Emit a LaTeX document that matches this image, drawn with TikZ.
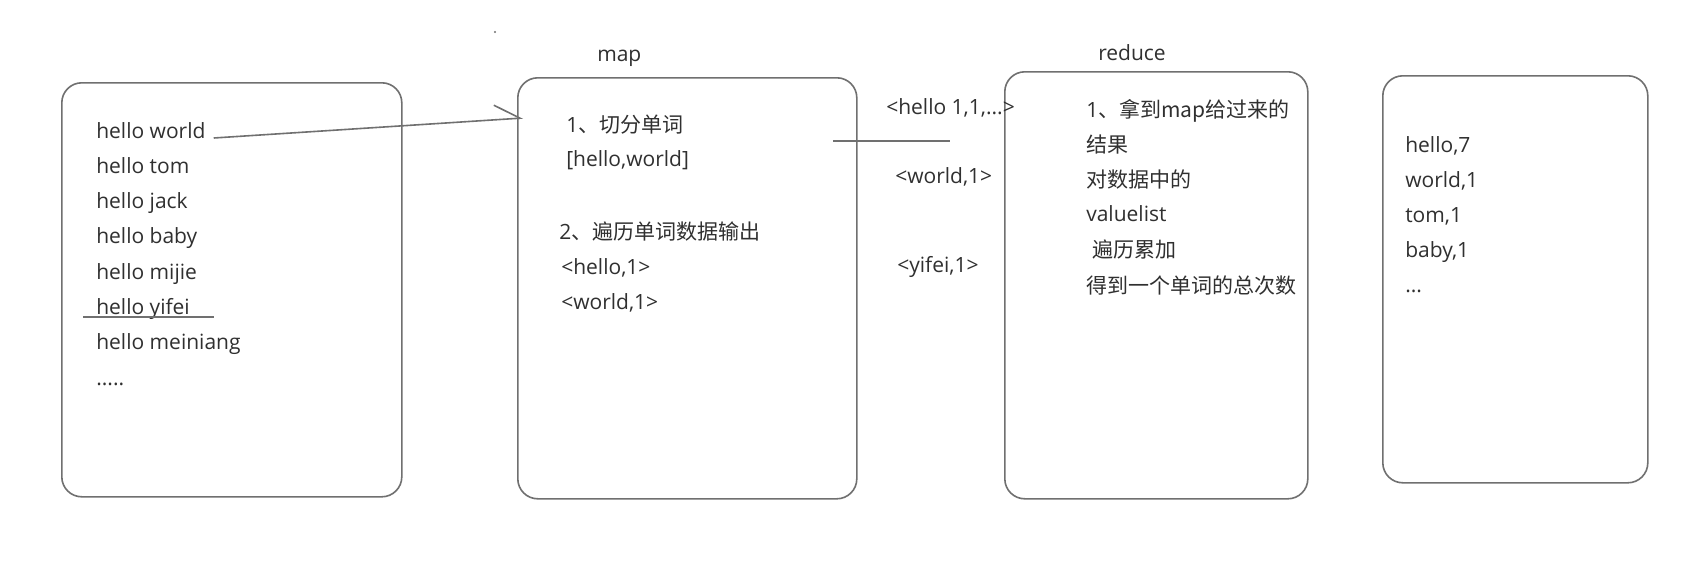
\documentclass[tikz,border=0pt]{standalone}
\usepackage{fontspec}
\setmainfont{Open Sans}
\newfontfamily\cjk{Noto Sans CJK SC}
\usepackage{tikz}
\usetikzlibrary{arrows.meta}

\definecolor{boxgray}{HTML}{707070}
\definecolor{textgray}{HTML}{303030}

\tikzset{
    box/.style={draw=boxgray, line width=1.2pt, rounded corners=15pt,
        anchor=north west, inner sep=0pt},
    word/.style={anchor=base west, inner sep=0pt, text=textgray,
        font=\fontsize{15.75}{18}\selectfont},
    stroke/.style={draw=boxgray, line width=1.2pt},
    link/.style={stroke, -{Straight Barb[left, length=19pt, width=22pt, line width=1.2pt]}}
}

\begin{document}
\begin{tikzpicture}[x=0.75pt,y=-0.75pt]

        \fill[white] (0,0) rectangle (1684,564);
        \useasboundingbox (0,0) rectangle (1684,564);

        % the four boxes
        \node[box, minimum width=255pt, minimum height=310.5pt] (input) at (61,82) {};
        \node[box, minimum width=254.25pt, minimum height=315.75pt] (mapbox) at (517,77) {};
        \node[box, minimum width=227.25pt, minimum height=320.25pt] (redbox) at (1004,71) {};
        \node[box, minimum width=198.75pt, minimum height=305.25pt] (outbox) at (1382,75) {};

        \node[word] (maplabel) at (597,61) {map};
        \node[word] (redlabel) at (1098,60) {reduce};

        % input lines
        \foreach \i/\txt in {0/hello world,1/hello tom,2/hello jack,3/hello baby,
                4/hello mijie,5/hello yifei,6/hello meiniang,7/{.....}}
            { \node[word] (w\i) at (96,{138+35.3*\i}) {\txt}; }

        \coordinate (u1) at (83,317);
        \coordinate (u2) at (214,317);
        \draw[stroke] (u1) -- (u2);

        \coordinate (tip) at (523,118);
        \draw[link] ([xshift=6pt]w0.base east) -- (tip);

        % map
        \node[word] (m1) at (566,132) {1\cjk{、切分单词}};
        \node[word] (m2) at (566,166) {[hello,world]};
        \node[word] (m3) at (559,239) {2\cjk{、遍历单词数据输出}};
        \node[word] (m4) at (561,274) {<hello,1>};
        \node[word] (m5) at (561,309) {<world,1>};

        \coordinate (s1) at (833,141);
        \coordinate (s2) at (950,141);
        \draw[stroke] (s1) -- (s2);

        % pairs between map and reduce
        \node[word] (k1) at (886,114) {<hello 1,1,...>};
        \node[word] (k2) at (895,183) {<world,1>};
        \node[word] (k3) at (897,272) {<yifei,1>};

        % reduce
        \node[word] (r1) at (1086,117) {1\cjk{、拿到}map\cjk{给过来的}};
        \node[word] (r2) at (1086,152) {\cjk{结果}};
        \node[word] (r3) at (1086,187) {\cjk{对数据中的}};
        \node[word] (r4) at (1086,221) {valuelist};
        \node[word] (r5) at (1092,257) {\cjk{遍历累加}};
        \node[word] (r6) at (1086,293) {\cjk{得到一个单词的总次数}};

        % output
        \foreach \i/\txt in {0/{hello,7},1/{world,1},2/{tom,1},3/{baby,1},4/{...}}
            { \node[word] (o\i) at (1405,{152+35*\i}) {\txt}; }

        \fill[boxgray] (495,32) circle (0.8pt);
    \end{tikzpicture}
\end{document}
